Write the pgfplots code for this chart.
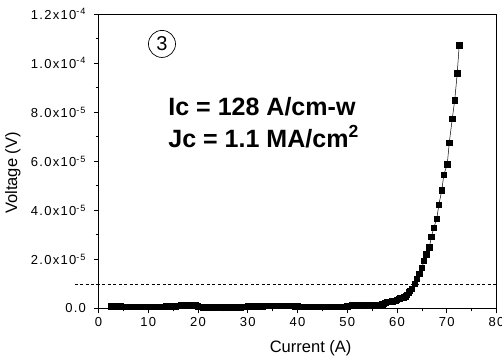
\documentclass[border=0pt]{standalone}
\usepackage{pgfplots}
\pgfplotsset{compat=1.18}
\usepackage{fontspec}
\setmainfont{Liberation Sans}
\newfontfamily\tickfont[LetterSpace=10]{Liberation Sans}
\begin{document}
\begin{tikzpicture}
\begin{axis}[
  scale only axis,
  width=397.5pt, height=294pt,
  xmin=0, xmax=80, ymin=0, ymax=12,
  clip=false,
  axis line style={line width=0.8pt},
  xtick={0,10,...,80},
  minor x tick num=1,
  ytick={0,2,4,6,8,10,12},
  yticklabels={0.0, 2.0x10\textsuperscript{-5}, 4.0x10\textsuperscript{-5}, 6.0x10\textsuperscript{-5}, 8.0x10\textsuperscript{-5}, 1.0x10\textsuperscript{-4}, 1.2x10\textsuperscript{-4}},
  minor y tick num=1,
  tick align=outside,
  tick pos=left,
  major tick length=5pt,
  minor tick length=3pt,
  tick style={line width=0.7pt, black},
  /pgf/number format/assume math mode=true,
  tick label style={font=\tickfont\fontsize{13}{15}\selectfont},
  yticklabel style={xshift=-4pt},
  every axis y label/.style={at={(axis description cs:-0.215,0.46)}, rotate=90, anchor=center, font=\fontsize{16.5}{18}\selectfont},
  every axis x label/.style={at={(axis description cs:0.533,-0.136)}, anchor=center, font=\fontsize{16.5}{18}\selectfont},
  xlabel={Current (A)},
  ylabel={Voltage (V)},
]
\coordinate (bl) at (axis cs:-19.8,-2.122);
\coordinate (tr) at (axis cs:81.1,12.571);
\addplot[black, line width=0.7pt, dash pattern=on 3pt off 2.5pt] coordinates {(-4.8,1) (80,1)};
\addplot[black, line width=0.5pt, mark=square*, mark size=2.7pt, mark options={solid}] coordinates {
(2.5,0.08) (3,0.08) (3.5,0.09) (4,0.08) (4.5,0.08) (5,0.07) (5.5,0.07) (6,0.07) (6.5,0.07) (7,0.07)
(7.5,0.07) (8,0.07) (8.5,0.07) (9,0.07) (9.5,0.07) (10,0.07) (10.5,0.07) (11,0.07) (11.5,0.07) (12,0.07)
(12.5,0.07) (13,0.07) (13.5,0.08) (14,0.08) (14.5,0.08) (15,0.08) (15.5,0.09) (16,0.1) (16.5,0.13) (17,0.15)
(17.5,0.16) (18,0.16) (18.5,0.16) (19,0.15) (19.5,0.12) (20,0.08) (20.5,0.06) (21,0.05) (21.5,0.05) (22,0.05)
(22.5,0.05) (23,0.05) (23.5,0.05) (24,0.05) (24.5,0.05) (25,0.05) (25.5,0.05) (26,0.05) (26.5,0.05) (27,0.05)
(27.5,0.05) (28,0.05) (28.5,0.05) (29,0.06) (29.5,0.07) (30,0.09) (30.5,0.1) (31,0.09) (31.5,0.08) (32,0.08)
(32.5,0.08) (33,0.09) (33.5,0.1) (34,0.1) (34.5,0.1) (35,0.1) (35.5,0.1) (36,0.1) (36.5,0.1) (37,0.1)
(37.5,0.1) (38,0.1) (38.5,0.1) (39,0.1) (39.5,0.09) (40,0.08) (40.5,0.07) (41,0.06) (41.5,0.06) (42,0.06)
(42.5,0.06) (43,0.06) (43.5,0.06) (44,0.06) (44.5,0.06) (45,0.06) (45.5,0.06) (46,0.06) (46.5,0.06) (47,0.06)
(47.5,0.06) (48,0.06) (48.5,0.06) (49,0.06) (49.5,0.07) (50,0.08) (50.5,0.1) (51,0.12) (51.5,0.13) (52,0.14)
(52.5,0.14) (53,0.14) (53.5,0.14) (54,0.15) (54.5,0.15) (55,0.15) (55.5,0.15) (56,0.15) (56.5,0.16) (57,0.17)
(57.3,0.18) (57.6,0.22) (58,0.26) (58.3,0.27) (58.6,0.28) (59,0.29) (59.3,0.30) (59.7,0.32) (60,0.36) (60.3,0.40)
(60.6,0.41) (61,0.43) (61.3,0.46) (61.7,0.5) (62,0.56) (62.3,0.65) (62.6,0.73) (63.0,0.80) (63.6,1.01) (64.0,1.21)
(64.5,1.42) (65.0,1.66) (65.4,1.93) (65.9,2.20) (66.5,2.50) (66.9,2.91) (67.4,3.29) (68.0,3.66) (68.4,4.22) (69.0,4.82)
(69.4,5.44) (70.1,5.88) (70.5,6.75) (71.1,7.73) (71.6,8.49) (72.1,9.58) (72.5,10.73)
};
\node[draw, circle, line width=0.7pt, minimum size=27pt, inner sep=0pt, font=\fontsize{20}{20}\selectfont] at (axis cs:12.76,10.78) {3};
\node[anchor=west, align=left, inner sep=0pt, font=\bfseries\fontsize{25}{31}\selectfont] at (axis cs:14,7.57) {Ic = 128 A/cm-w\\Jc = 1.1 MA/cm\textsuperscript{2}};
\end{axis}
\pgfresetboundingbox
\path (bl) rectangle (tr);
\end{tikzpicture}
\end{document}
